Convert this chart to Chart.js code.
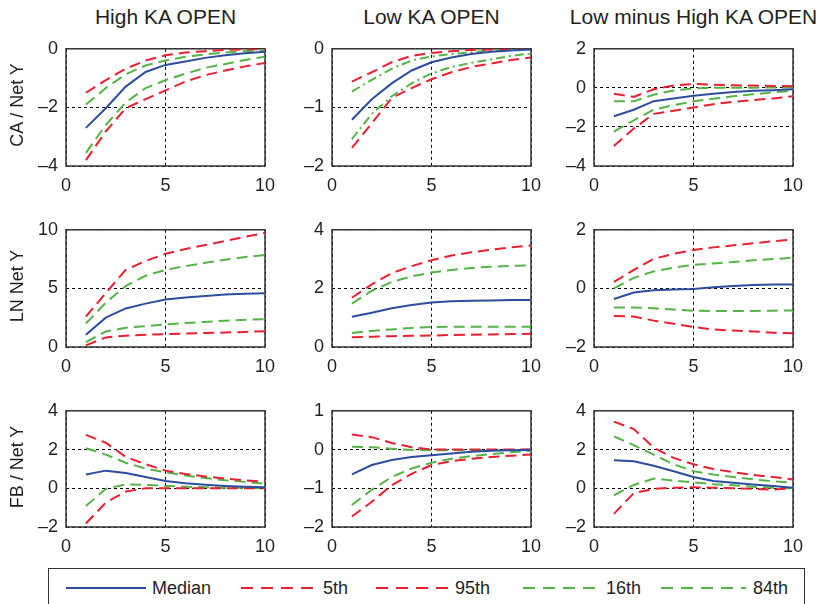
<!DOCTYPE html>
<html>
<head>
<meta charset="utf-8">
<script src="https://cdn.jsdelivr.net/npm/chart.js@4.4.1/dist/chart.umd.min.js"></script>
<style>
  body { margin: 0; background: #fff; width: 823px; height: 604px; overflow: hidden; position: relative;
         font-family: "Liberation Sans", Arial, sans-serif; color: #231f20; }
  canvas { position: absolute; }
  .title { position: absolute; width: 300px; text-align: center; font-size: 21px; line-height: 24px; }
  .ylab { position: absolute; width: 160px; height: 20px; text-align: center; font-size: 18px; line-height: 20px; transform: rotate(-90deg); }
  .legend { position: absolute; left: 48px; top: 568px; width: 757px; height: 40px; border: 1.5px solid #333; box-sizing: border-box; }
  .legend svg { position: absolute; top: 0; left: 0; }
  .legend span { position: absolute; top: 8px; font-size: 18px; line-height: 22px; }
</style>
</head>
<body>
<div class="legend" id="legend"></div>
<script>
// horizon (years)
const horizon = [1, 2, 3, 4, 5, 6, 7, 8, 9, 10];
const xTicks = [0, 5, 10];

// CA / Net Y
const caHighMedian = [-2.7, -2.03, -1.29, -0.79, -0.55, -0.43, -0.31, -0.22, -0.15, -0.1];
const caHighP5 = [-3.8, -2.82, -2.03, -1.72, -1.42, -1.12, -0.9, -0.74, -0.6, -0.48];
const caHighP95 = [-1.5, -1.07, -0.68, -0.4, -0.22, -0.13, -0.08, -0.04, -0.02, -0.01];
const caHighP16 = [-3.55, -2.6, -1.83, -1.34, -1.07, -0.85, -0.65, -0.52, -0.38, -0.27];
const caHighP84 = [-1.9, -1.34, -0.87, -0.57, -0.4, -0.27, -0.19, -0.13, -0.08, -0.05];

const caLowMedian = [-1.21, -0.86, -0.59, -0.37, -0.23, -0.15, -0.09, -0.05, -0.03, -0.01];
const caLowP5 = [-1.69, -1.27, -0.84, -0.67, -0.52, -0.4, -0.31, -0.25, -0.19, -0.15];
const caLowP95 = [-0.56, -0.4, -0.23, -0.12, -0.07, -0.04, -0.02, -0.01, 0, 0];
const caLowP16 = [-1.54, -1.11, -0.81, -0.59, -0.42, -0.31, -0.24, -0.18, -0.12, -0.08];
const caLowP84 = [-0.73, -0.53, -0.34, -0.2, -0.13, -0.09, -0.06, -0.03, -0.02, -0.01];

const caDiffMedian = [-1.45, -1.12, -0.68, -0.54, -0.4, -0.3, -0.21, -0.15, -0.12, -0.07];
const caDiffP5 = [-2.98, -2.08, -1.33, -1.17, -1.0, -0.84, -0.71, -0.63, -0.54, -0.43];
const caDiffP95 = [-0.3, -0.46, -0.07, 0.12, 0.2, 0.16, 0.13, 0.12, 0.1, 0.08];
const caDiffP16 = [-2.24, -1.66, -1.12, -0.89, -0.69, -0.56, -0.43, -0.33, -0.23, -0.15];
const caDiffP84 = [-0.69, -0.69, -0.35, -0.13, -0.03, 0, 0.01, 0.01, 0.02, 0.02];

// LN Net Y
const lnHighMedian = [1.04, 2.5, 3.29, 3.7, 4.05, 4.22, 4.36, 4.47, 4.55, 4.58];
const lnHighP5 = [0.14, 0.82, 0.96, 1.04, 1.1, 1.15, 1.2, 1.23, 1.29, 1.34];
const lnHighP95 = [2.6, 4.6, 6.58, 7.34, 7.95, 8.36, 8.7, 9.04, 9.4, 9.73];
const lnHighP16 = [0.41, 1.32, 1.64, 1.78, 1.92, 2.05, 2.14, 2.25, 2.33, 2.38];
const lnHighP84 = [2.0, 3.78, 5.2, 6.08, 6.58, 6.9, 7.18, 7.45, 7.67, 7.86];

const lnLowMedian = [1.03, 1.17, 1.32, 1.43, 1.52, 1.56, 1.58, 1.59, 1.6, 1.6];
const lnLowP5 = [0.33, 0.35, 0.37, 0.38, 0.39, 0.41, 0.42, 0.43, 0.44, 0.45];
const lnLowP95 = [1.68, 2.14, 2.52, 2.76, 2.96, 3.12, 3.23, 3.32, 3.4, 3.46];
const lnLowP16 = [0.48, 0.55, 0.6, 0.65, 0.68, 0.69, 0.69, 0.69, 0.69, 0.69];
const lnLowP84 = [1.48, 1.92, 2.22, 2.41, 2.54, 2.63, 2.7, 2.74, 2.77, 2.79];

const lnDiffMedian = [-0.36, -0.14, -0.06, -0.04, -0.02, 0.04, 0.08, 0.12, 0.13, 0.13];
const lnDiffP5 = [-0.94, -0.96, -1.1, -1.21, -1.32, -1.4, -1.44, -1.47, -1.51, -1.53];
const lnDiffP95 = [0.22, 0.63, 1.01, 1.18, 1.31, 1.4, 1.47, 1.54, 1.61, 1.67];
const lnDiffP16 = [-0.65, -0.65, -0.68, -0.72, -0.76, -0.77, -0.77, -0.77, -0.76, -0.75];
const lnDiffP84 = [0.0, 0.36, 0.58, 0.71, 0.8, 0.85, 0.9, 0.96, 1.0, 1.05];

// FB / Net Y
const fbHighMedian = [0.71, 0.91, 0.79, 0.58, 0.38, 0.26, 0.18, 0.12, 0.08, 0.05];
const fbHighP5 = [-1.82, -0.74, -0.17, 0, 0, 0, 0, 0, 0, 0];
const fbHighP95 = [2.76, 2.35, 1.62, 1.24, 0.91, 0.74, 0.61, 0.5, 0.41, 0.33];
const fbHighP16 = [-0.91, -0.03, 0.2, 0.17, 0.12, 0.08, 0.05, 0.03, 0.02, 0];
const fbHighP84 = [2.07, 1.74, 1.32, 1.02, 0.83, 0.66, 0.53, 0.41, 0.33, 0.23];

const fbLowMedian = [-0.64, -0.4, -0.27, -0.19, -0.15, -0.1, -0.06, -0.03, -0.02, -0.01];
const fbLowP5 = [-1.73, -1.35, -0.92, -0.63, -0.4, -0.3, -0.24, -0.19, -0.16, -0.13];
const fbLowP95 = [0.39, 0.32, 0.17, 0.06, 0, 0, 0, 0, 0, 0];
const fbLowP16 = [-1.43, -1.04, -0.71, -0.49, -0.34, -0.24, -0.17, -0.12, -0.07, -0.03];
const fbLowP84 = [0.07, 0.06, 0.02, -0.01, -0.02, -0.02, -0.02, -0.01, -0.01, 0];

const fbDiffMedian = [1.45, 1.39, 1.16, 0.88, 0.58, 0.38, 0.28, 0.2, 0.12, 0.03];
const fbDiffP5 = [-1.32, -0.25, -0.03, 0.03, 0.05, 0.03, 0, -0.03, -0.07, 0];
const fbDiffP95 = [3.44, 3.06, 2.1, 1.57, 1.24, 0.99, 0.83, 0.69, 0.58, 0.45];
const fbDiffP16 = [-0.36, 0.17, 0.5, 0.4, 0.3, 0.21, 0.15, 0.08, 0.03, 0];
const fbDiffP84 = [2.68, 2.23, 1.74, 1.24, 0.88, 0.71, 0.58, 0.46, 0.36, 0.28];

const columnTitles = ["High KA OPEN", "Low KA OPEN", "Low minus High KA OPEN"];
const rowTitles = ["CA / Net Y", "LN Net Y", "FB / Net Y"];
const legendLabels = ["Median", "5th", "95th", "16th", "84th"];

const BLUE = "#2d4e9e";
const RED = "#e8202f";
const GREEN = "#55b347";
const TEXT = "#231f20";
const FONT = '"Liberation Sans", Arial, sans-serif';

// plot rectangles in page pixels
const colX = [[66, 265], [332, 531], [594, 793]];
const rowY = [[44, 166], [225, 347], [406, 527]];

const panels = [
  { row: 0, col: 0, min: -4, max: 0, step: 2, s: [caHighMedian, caHighP5, caHighP95, caHighP16, caHighP84] },
  { row: 0, col: 1, min: -2, max: 0, step: 1, s: [caLowMedian, caLowP5, caLowP95, caLowP16, caLowP84], dashDot: true },
  { row: 0, col: 2, min: -4, max: 2, step: 2, s: [caDiffMedian, caDiffP5, caDiffP95, caDiffP16, caDiffP84] },
  { row: 1, col: 0, min: 0, max: 10, step: 5, s: [lnHighMedian, lnHighP5, lnHighP95, lnHighP16, lnHighP84] },
  { row: 1, col: 1, min: 0, max: 4, step: 2, s: [lnLowMedian, lnLowP5, lnLowP95, lnLowP16, lnLowP84] },
  { row: 1, col: 2, min: -2, max: 2, step: 2, s: [lnDiffMedian, lnDiffP5, lnDiffP95, lnDiffP16, lnDiffP84] },
  { row: 2, col: 0, min: -2, max: 4, step: 2, s: [fbHighMedian, fbHighP5, fbHighP95, fbHighP16, fbHighP84] },
  { row: 2, col: 1, min: -2, max: 1, step: 1, s: [fbLowMedian, fbLowP5, fbLowP95, fbLowP16, fbLowP84] },
  { row: 2, col: 2, min: -2, max: 4, step: 2, s: [fbDiffMedian, fbDiffP5, fbDiffP95, fbDiffP16, fbDiffP84] },
];

// box around the plot area, drawn under the lines
const boxPlugin = {
  id: "box",
  beforeDatasetsDraw(chart) {
    const { ctx, chartArea: a } = chart;
    ctx.save();
    ctx.strokeStyle = "#333";
    ctx.lineWidth = 1.5;
    ctx.setLineDash([]);
    ctx.strokeRect(a.left, a.top, a.right - a.left, a.bottom - a.top);
    ctx.restore();
  }
};

function makeSet(values, color, dash) {
  return {
    data: horizon.map((h, i) => ({ x: h, y: values[i] })),
    borderColor: color,
    borderWidth: 2,
    borderDash: dash,
    pointRadius: 0,
    tension: 0,
    fill: false
  };
}

const minusLabel = v => (v < 0 ? "\u2013" + Math.abs(v) : String(v));

panels.forEach(p => {
  const [pl, pr] = colX[p.col];
  const [pt, pb] = rowY[p.row];
  const padTop = 14, padRight = 24, yW = 60, xH = 34;
  const canvas = document.createElement("canvas");
  canvas.width = (pr - pl) + yW + padRight;
  canvas.height = (pb - pt) + padTop + xH;
  canvas.style.left = (pl - yW) + "px";
  canvas.style.top = (pt - padTop) + "px";
  document.body.appendChild(canvas);

  const greenDash = p.dashDot ? [9, 4, 2, 4] : [11, 6];
  const datasets = [
    makeSet(p.s[0], BLUE, []),
    makeSet(p.s[1], RED, [11, 6]),
    makeSet(p.s[2], RED, [11, 6]),
    makeSet(p.s[3], GREEN, greenDash),
    makeSet(p.s[4], GREEN, greenDash)
  ];

  new Chart(canvas, {
    type: "line",
    data: { datasets: datasets },
    plugins: [boxPlugin],
    options: {
      responsive: false,
      animation: false,
      devicePixelRatio: 1,
      layout: { padding: { top: padTop, right: padRight, left: 0, bottom: 0 } },
      plugins: { legend: { display: false }, tooltip: { enabled: false } },
      scales: {
        x: {
          type: "linear",
          min: 0,
          max: 10,
          afterBuildTicks: scale => { scale.ticks = xTicks.map(v => ({ value: v })); },
          afterFit: scale => { scale.height = xH; },
          grid: { color: "#000", lineWidth: 1, drawTicks: false },
          border: { display: false, dash: [3, 3] },
          ticks: { font: { family: FONT, size: 18 }, color: TEXT, padding: 9, maxRotation: 0, autoSkip: false }
        },
        y: {
          min: p.min,
          max: p.max,
          afterFit: scale => { scale.width = yW; },
          grid: { color: "#000", lineWidth: 1, drawTicks: false },
          border: { display: false, dash: [3, 3] },
          ticks: { stepSize: p.step, font: { family: FONT, size: 18 }, color: TEXT, padding: 8, callback: minusLabel }
        }
      }
    }
  });
});

// column titles
columnTitles.forEach((t, i) => {
  const d = document.createElement("div");
  d.className = "title";
  d.textContent = t;
  d.style.left = ((colX[i][0] + colX[i][1]) / 2 - 150) + "px";
  d.style.top = "5px";
  document.body.appendChild(d);
});

// row titles
rowTitles.forEach((t, i) => {
  const d = document.createElement("div");
  d.className = "ylab";
  d.textContent = t;
  d.style.left = (17 - 80) + "px";
  d.style.top = ((rowY[i][0] + rowY[i][1]) / 2 - 10) + "px";
  document.body.appendChild(d);
});

// legend
const legend = document.getElementById("legend");
const legendStyles = [
  { color: BLUE, dash: "", x1: 17, x2: 97, tx: 103 },
  { color: RED, dash: "12 8", x1: 192, x2: 267, tx: 274 },
  { color: RED, dash: "12 8", x1: 327, x2: 404, tx: 406 },
  { color: GREEN, dash: "12 8", x1: 474, x2: 549, tx: 557 },
  { color: GREEN, dash: "12 8", x1: 612, x2: 697, tx: 704 }
];
let svg = '<svg width="757" height="40">';
legendStyles.forEach(s => {
  svg += '<line x1="' + s.x1 + '" y1="19" x2="' + s.x2 + '" y2="19" stroke="' + s.color +
         '" stroke-width="2" stroke-dasharray="' + s.dash + '"/>';
});
svg += "</svg>";
legend.innerHTML = svg;
legendLabels.forEach((t, i) => {
  const sp = document.createElement("span");
  sp.textContent = t;
  sp.style.left = legendStyles[i].tx + "px";
  legend.appendChild(sp);
});
</script>
</body>
</html>
